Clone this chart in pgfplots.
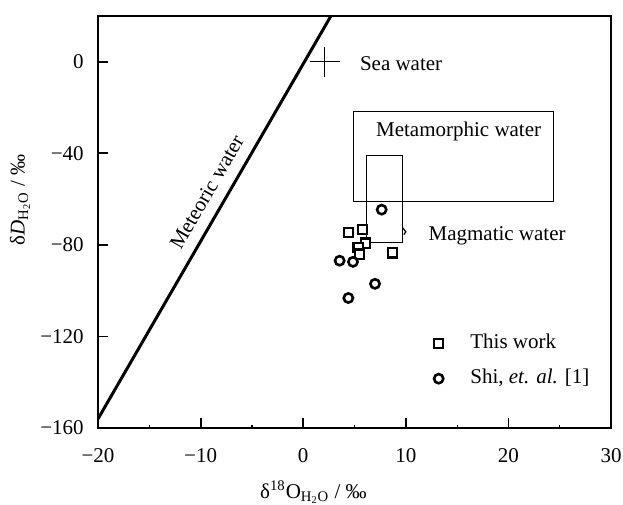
\documentclass[border=0pt]{standalone}
\usepackage{fontspec}
\setmainfont{Liberation Serif}
\usepackage{pgfplots}
\pgfplotsset{compat=1.18}
\begin{document}
\fontsize{10.5pt}{12.6pt}\selectfont
\begin{tikzpicture}
\begin{axis}[
  scale only axis, width=256.5pt, height=206pt,
  xmin=-20, xmax=30, ymin=-160, ymax=20,
  axis line style={line width=0.9pt},
  every tick/.style={black, line width=0.9pt},
  every minor tick/.style={black, line width=0.6pt},
  tick align=inside,
  xtick pos=left, ytick pos=left,
  major tick length=5pt, minor tick length=1.5pt,
  xtick={-20,-10,0,10,20,30}, xticklabels={−20,−10,0,10,20,30},
  minor xtick={-15,-5,5,15,25},
  ytick={-160,-120,-80,-40,0}, yticklabels={−160,−120,−80,−40,0},
  xticklabel style={yshift=-6.5pt},
  yticklabel style={xshift=-3.5pt},
  xlabel={δ\textsuperscript{18}O\textsubscript{H\textsubscript{2}O} / ‰},
  ylabel={δ\textit{D}\textsubscript{H\textsubscript{2}O} / ‰},
  xlabel style={at={(axis description cs:0.42,0)}, anchor=center, yshift=-32pt},
  ylabel style={at={(axis description cs:-0.152,0.554)}, anchor=center},
  legend cell align=left,
  legend style={at={(axis cs:11.8,-130.75)}, anchor=west, draw=none, fill=none,
    inner xsep=3pt, inner ysep=0pt, row sep=3.6pt, column sep=9.85pt,
    cells={anchor=west}, nodes={inner sep=2pt, text height=7.5pt, text depth=2.5pt}},
  legend image code/.code={\path[draw=none, fill=none] (-4pt,-4pt) rectangle (4pt,4pt); \draw[#1] plot coordinates {(0pt,0pt)};},
]
% meteoric water line
\addplot[black, line width=1.5pt, forget plot] coordinates {(-20,-156) (2.7,20)};
% metamorphic water box
\addplot[black, line width=0.6pt, forget plot] coordinates {(4.9,-21.8) (24.4,-21.8) (24.4,-61) (4.9,-61) (4.9,-21.8)};
% magmatic water box
\addplot[black, line width=0.6pt, forget plot] coordinates {(6.15,-41) (9.7,-41) (9.7,-79.1) (6.15,-79.1) (6.15,-41)};
\addplot[black, line width=0.6pt, forget plot] coordinates {(9.7,-72.5) (10.0,-74.3) (9.8,-75.5)};
% sea water
\addplot[only marks, mark=+, mark size=7.5pt, mark options={line width=0.6pt}, forget plot] coordinates {(2.1,0)};
% this work
\addplot[only marks, mark=square*, mark size=2.3pt, mark options={draw=black, fill=white, line width=1.1pt}]
  coordinates {(4.4,-74.5) (5.8,-73.2) (6.1,-79.2) (5.35,-81.2) (5.5,-84) (8.7,-83.5)};
\addlegendentry{This work}
% Shi et al.
\addplot[only marks, mark=*, mark size=2.3pt, mark options={draw=black, fill=white, line width=1.3pt}]
  coordinates {(7.65,-64.6) (3.55,-86.9) (4.85,-87.4) (7.0,-97) (4.4,-103.2)};
\addlegendentry{Shi,\ \textit{et. al.} [1]}
\node[anchor=west, inner sep=0pt] at (axis cs:5.5,-1) {Sea water};
\node[inner sep=0pt] at (axis cs:15.15,-30.6) {Metamorphic water};
\node[inner sep=0pt] at (axis cs:18.9,-75.9) {Magmatic water};
\node[rotate=60, inner sep=0pt] at (axis cs:-9.4,-57) {Meteoric water};
\end{axis}
\pgfresetboundingbox
\path[use as bounding box] ([shift={(-49pt,-38pt)}]current axis.south west) rectangle ([shift={(6pt,8pt)}]current axis.north east);
\end{tikzpicture}
\end{document}
